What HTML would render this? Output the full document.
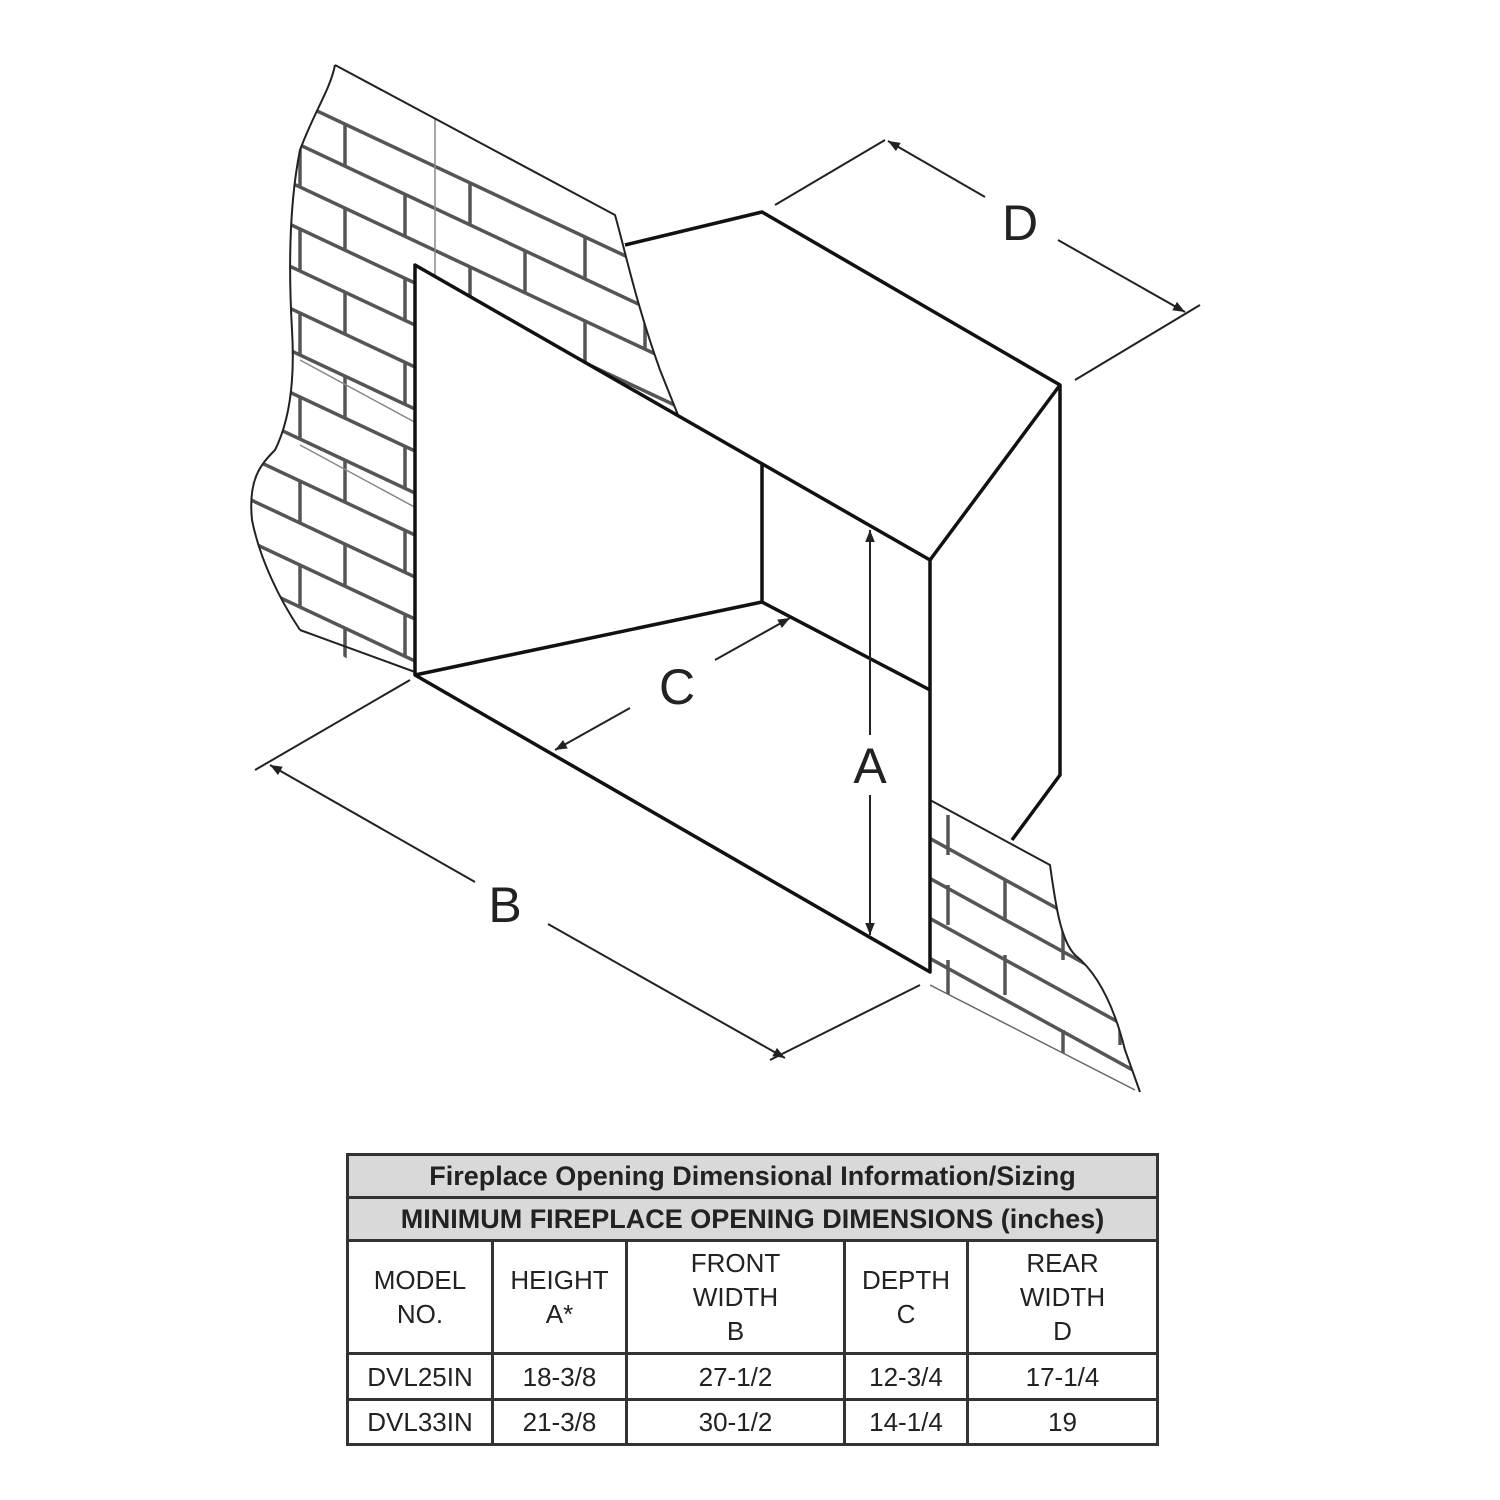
<!DOCTYPE html>
<html><head><style>
body{margin:0;background:#fff;width:1500px;height:1500px;overflow:hidden;font-family:"Liberation Sans",sans-serif}
table{position:absolute;left:346px;top:1153px;width:813px;border-collapse:collapse;font-size:26px;color:#222}
td{border:3px solid #333;text-align:center;padding:0;line-height:34px}
.g{background:#d9d9d9;font-weight:bold;height:40px;font-size:27px}
</style></head><body>
<svg width="1500" height="1500" style="position:absolute;left:0;top:0">
<defs>
<clipPath id="cl"><path d="M335,65 L615,215 C625,250 635,300 660,370 L680,420 L415,700 L300,630 C280,600 260,560 252,520 C248,480 260,465 275,450 C290,420 295,380 292,330 C288,260 290,200 300,150 C315,110 330,90 335,65 Z"/></clipPath>
<clipPath id="cr"><path d="M930,800 L1050,865 C1055,900 1060,940 1075,955 C1100,975 1115,1010 1125,1050 L1140,1092 L930,985 Z"/></clipPath>
<marker id="ar" viewBox="0 0 10 10" refX="10" refY="5" markerWidth="12" markerHeight="12" orient="auto-start-reverse" markerUnits="userSpaceOnUse"><path d="M0,1 L10,5 L0,9 Z" fill="#222"/></marker>
</defs>
<g clip-path="url(#cl)" stroke="#555" stroke-width="3.5" fill="none">
<path d="M200,56 L700,291 M200,98 L700,333 M200,140 L700,375 M200,182 L700,417 M200,224 L700,459 M200,266 L700,501 M200,308 L700,543 M200,350 L700,585 M200,392 L700,627 M200,434 L700,669 M200,476 L700,711 M200,518 L700,753 M200,560 L700,795 M200,602 L700,837"/>
<path d="M345,124V166 M470,183V225 M585,237V279 M300,145V187 M405,194V236 M525,251V293 M645,307V349 M345,208V250 M470,267V309 M585,321V363 M300,229V271 M405,278V320 M525,335V377 M345,292V334 M470,351V393 M300,313V355 M405,362V404 M345,376V418 M300,397V439 M405,446V488 M345,460V502 M300,481V523 M405,530V572 M345,544V586 M300,565V607 M405,614V656 M345,628V670"/>
<path stroke="#888" stroke-width="1.5" d="M435,60 V700 M300,360 L420,425 M300,445 L420,510"/>
</g>
<path d="M335,65 L615,215 C625,250 635,300 660,370 L680,420 M300,630 C280,600 260,560 252,520 C248,480 260,465 275,450 C290,420 295,380 292,330 C288,260 290,200 300,150 C315,110 330,90 335,65 M300,630 L415,672" stroke="#222" stroke-width="2" fill="none"/>
<g clip-path="url(#cr)" stroke="#555" stroke-width="3.5" fill="none">
<path d="M900,822 L1200,987 M900,862 L1200,1027 M900,902 L1200,1067 M900,942 L1200,1107 M900,982 L1200,1147"/>
<path d="M948,815 V855 M1005,880 V920 M948,885 V925 M1063,920 V960 M1005,955 V995 M948,960 V1000 M1120,1005 V1045 M1063,1030 V1070"/>
</g>
<path d="M930,800 L1050,865 C1055,900 1060,940 1075,955 C1100,975 1115,1010 1125,1050 L1140,1092" stroke="#222" stroke-width="2" fill="none"/>
<path d="M930,985 L1135,1090" stroke="#666" stroke-width="1.5"/>
<g stroke="#111" stroke-width="3.5" fill="#fff" stroke-linejoin="round">
<path d="M625,245 L762,212 L1060,385 L1060,775 L1012,840" fill="none"/>
<path d="M415,265 L930,560 L930,972 L415,675 Z"/>
<path d="M1060,385 L930,560" fill="none"/>
<path d="M762,465 L762,602 L415,675 M762,602 L930,690" fill="none"/>
</g>
<g stroke="#222" stroke-width="2" fill="none">
<path d="M775,205 L885,140 M1075,380 L1200,305 M255,770 L410,680 M770,1060 L920,985"/>
<path d="M888,141 L985,197" marker-start="url(#ar)"/>
<path d="M1058,240 L1185,312" marker-end="url(#ar)"/>
<path d="M870,530 L870,735" marker-start="url(#ar)"/>
<path d="M870,795 L870,935" marker-end="url(#ar)"/>
<path d="M790,618 L715,660" marker-start="url(#ar)"/>
<path d="M630,708 L555,750" marker-end="url(#ar)"/>
<path d="M270,765 L475,882" marker-start="url(#ar)"/>
<path d="M548,924 L785,1058" marker-end="url(#ar)"/>
</g>
<g font-family="Liberation Sans, sans-serif" font-size="50" fill="#222" text-anchor="middle">
<text x="1020" y="240">D</text>
<text x="677" y="704">C</text>
<text x="870" y="783">A</text>
<text x="505" y="922">B</text>
</g>
</svg>
<table>
<tr><td colspan="5" class="g">Fireplace Opening Dimensional Information/Sizing</td></tr>
<tr><td colspan="5" class="g">MINIMUM FIREPLACE OPENING DIMENSIONS (inches)</td></tr>
<tr style="height:113px"><td style="width:142px">MODEL<br>NO.</td><td style="width:131px">HEIGHT<br>A*</td><td style="width:215px">FRONT<br>WIDTH<br>B</td><td style="width:120px">DEPTH<br>C</td><td>REAR<br>WIDTH<br>D</td></tr>
<tr style="height:46px"><td>DVL25IN</td><td>18-3/8</td><td>27-1/2</td><td>12-3/4</td><td>17-1/4</td></tr>
<tr style="height:45px"><td>DVL33IN</td><td>21-3/8</td><td>30-1/2</td><td>14-1/4</td><td>19</td></tr>
</table>
</body></html>
